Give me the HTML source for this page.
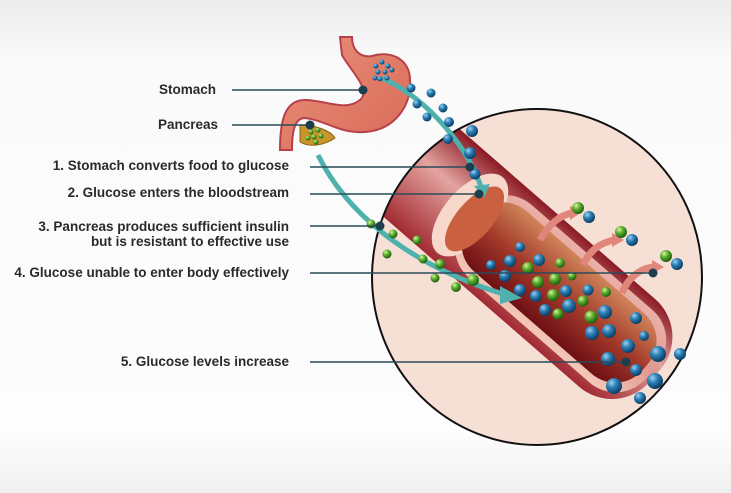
<!DOCTYPE html>
<html><head><style>
html,body{margin:0;padding:0;width:731px;height:493px;overflow:hidden;background:#fff}
svg{display:block}
text{font-family:"Liberation Sans",sans-serif;font-size:13.5px;font-weight:bold;fill:#2a2a2a;}
</style></head><body>
<svg width="731" height="493" viewBox="0 0 731 493" xmlns="http://www.w3.org/2000/svg">
<defs>
<linearGradient id="bg" x1="0" y1="0" x2="0" y2="1">
<stop offset="0" stop-color="#ececec"/><stop offset="0.12" stop-color="#fafafa"/><stop offset="0.88" stop-color="#fdfdfd"/><stop offset="1" stop-color="#f0f0f0"/>
</linearGradient>
<radialGradient id="blue" cx="0.35" cy="0.3" r="0.7"><stop offset="0" stop-color="#9fd0ee"/><stop offset="0.45" stop-color="#2a7fb5"/><stop offset="1" stop-color="#0d3d63"/></radialGradient>
<radialGradient id="green" cx="0.35" cy="0.3" r="0.7"><stop offset="0" stop-color="#d8f4a0"/><stop offset="0.45" stop-color="#5cae2e"/><stop offset="1" stop-color="#1f5e10"/></radialGradient>
<linearGradient id="vessel" x1="0" y1="0" x2="0" y2="1"><stop offset="0" stop-color="#d0845a"/><stop offset="0.5" stop-color="#a33a2a"/><stop offset="1" stop-color="#6d0f14"/></linearGradient>
<linearGradient id="wall" x1="0" y1="0" x2="0" y2="1"><stop offset="0" stop-color="#eab0a8"/><stop offset="0.5" stop-color="#e09a90"/><stop offset="1" stop-color="#f3c8b8"/></linearGradient>
<linearGradient id="outer" x1="0" y1="0" x2="0" y2="1"><stop offset="0" stop-color="#8a1a24"/><stop offset="0.4" stop-color="#e4a4a0"/><stop offset="1" stop-color="#a22a32"/></linearGradient>
<linearGradient id="stom" x1="0" y1="0" x2="1" y2="1"><stop offset="0" stop-color="#e9907a"/><stop offset="1" stop-color="#d86a58"/></linearGradient>
<clipPath id="cc"><ellipse cx="537" cy="277" rx="165" ry="168"/></clipPath>
</defs>
<rect width="731" height="493" fill="url(#bg)"/>

<ellipse cx="537" cy="277" rx="165" ry="168" fill="#f6dfd5"/>

<g clip-path="url(#cc)">
<g transform="translate(470,215) rotate(41)">
<rect x="-140" y="-58" width="385" height="116" rx="50" fill="url(#outer)"/>
<rect x="-140" y="-58" width="140" height="116" fill="url(#outer)"/>
<rect x="0" y="-48" width="240" height="96" rx="40" fill="url(#wall)"/>
<ellipse cx="0" cy="0" rx="26" ry="50" fill="#f7d8ca"/>
<rect x="4" y="-40" width="228" height="80" rx="36" fill="url(#vessel)"/>
<ellipse cx="6" cy="0" rx="18" ry="40" fill="#c9603f"/>
</g>
</g>
<ellipse cx="537" cy="277" rx="165" ry="168" fill="none" stroke="#111" stroke-width="2"/>

<path d="M340,37 L352,37 C352,50 360,58 372,56 C392,50 410,60 410,80 C412,105 395,130 365,132 C340,134 325,120 305,118 C295,118 292,130 292,150 L280,150 C280,120 285,100 305,100 C325,100 345,112 360,100 C372,90 350,70 342,55 Z" fill="url(#stom)" stroke="#b8404a" stroke-width="2"/>
<path d="M300,125 C315,125 330,130 335,138 C325,145 310,148 300,142 Z" fill="#c8952a" stroke="#8a6010" stroke-width="1"/>

<path d="M382,78 C430,100 470,150 482,190" fill="none" stroke="#4fb1ad" stroke-width="5"/>
<polygon points="474,186 490,184 484,198" fill="#4fb1ad"/>
<path d="M318,155 C350,220 420,270 510,296" fill="none" stroke="#4fb1ad" stroke-width="5"/>
<polygon points="500,286 522,298 500,304" fill="#4fb1ad"/>

<g fill="none" stroke="#e0867a" stroke-width="7">
<path d="M540,240 C548,225 560,215 572,213"/>
<path d="M583,265 C590,250 600,243 614,240"/>
<path d="M622,293 C628,278 640,268 654,267"/>
</g>
<g fill="#e0867a"><polygon points="570,206 582,212 570,220"/><polygon points="612,233 624,240 612,247"/><polygon points="652,260 664,267 652,274"/></g>

<g fill="url(#blue)">
<circle cx="376" cy="66" r="2.5"/><circle cx="382" cy="62" r="2.5"/><circle cx="388" cy="66" r="2.5"/><circle cx="378" cy="72" r="2.5"/><circle cx="385" cy="72" r="2.5"/><circle cx="392" cy="70" r="2.5"/><circle cx="380" cy="79" r="2.5"/><circle cx="387" cy="78" r="2.5"/><circle cx="375" cy="78" r="2.5"/>
<circle cx="411" cy="88" r="4.5"/><circle cx="431" cy="93" r="4.5"/><circle cx="417" cy="104" r="4.5"/><circle cx="443" cy="108" r="4.5"/><circle cx="427" cy="117" r="4.5"/><circle cx="449" cy="122" r="5"/><circle cx="472" cy="131" r="6"/><circle cx="448" cy="139" r="5"/><circle cx="470" cy="153" r="6"/><circle cx="475" cy="174" r="5.5"/>
<circle cx="589" cy="217" r="6"/><circle cx="632" cy="240" r="6"/><circle cx="677" cy="264" r="6"/>
<circle cx="520" cy="247" r="5"/><circle cx="491" cy="265" r="5"/><circle cx="510" cy="261" r="6"/><circle cx="539" cy="260" r="6"/><circle cx="505" cy="276" r="6"/><circle cx="520" cy="290" r="6"/><circle cx="536" cy="296" r="6"/><circle cx="566" cy="291" r="6"/><circle cx="588" cy="290" r="5.5"/><circle cx="545" cy="310" r="6"/><circle cx="569" cy="306" r="7"/><circle cx="605" cy="312" r="7"/><circle cx="636" cy="318" r="6"/><circle cx="592" cy="333" r="7"/><circle cx="609" cy="331" r="7"/><circle cx="644" cy="336" r="5"/><circle cx="628" cy="346" r="7"/><circle cx="608" cy="359" r="7"/><circle cx="658" cy="354" r="8"/><circle cx="680" cy="354" r="6"/><circle cx="636" cy="370" r="6"/><circle cx="614" cy="386" r="8"/><circle cx="655" cy="381" r="8"/><circle cx="640" cy="398" r="6"/>
</g>
<g fill="url(#green)">
<circle cx="311" cy="132" r="2.5"/><circle cx="318" cy="130" r="2.5"/><circle cx="314" cy="137" r="2.5"/><circle cx="321" cy="136" r="2.5"/><circle cx="308" cy="138" r="2.5"/><circle cx="316" cy="142" r="2.5"/>
<circle cx="371" cy="224" r="4.5"/><circle cx="393" cy="234" r="4.5"/><circle cx="417" cy="240" r="4.5"/><circle cx="387" cy="254" r="4.5"/><circle cx="423" cy="259" r="4.5"/><circle cx="440" cy="264" r="5"/><circle cx="435" cy="278" r="4.5"/><circle cx="456" cy="287" r="5"/><circle cx="473" cy="280" r="6"/>
<circle cx="578" cy="208" r="6"/><circle cx="621" cy="232" r="6"/><circle cx="666" cy="256" r="6"/>
<circle cx="560" cy="263" r="5"/><circle cx="528" cy="268" r="6"/><circle cx="572" cy="276" r="4.5"/><circle cx="538" cy="282" r="6"/><circle cx="555" cy="279" r="6"/><circle cx="553" cy="295" r="6"/><circle cx="583" cy="301" r="5.5"/><circle cx="606" cy="292" r="5"/><circle cx="558" cy="314" r="5.5"/><circle cx="591" cy="317" r="6.5"/>
</g>

<g stroke="#2b4a58" stroke-width="1.6">
<line x1="232" y1="90" x2="363" y2="90"/>
<line x1="232" y1="125" x2="310" y2="125"/>
<line x1="310" y1="167" x2="470" y2="167"/>
<line x1="310" y1="194" x2="479" y2="194"/>
<line x1="310" y1="226" x2="380" y2="226"/>
<line x1="310" y1="273" x2="653" y2="273"/>
<line x1="310" y1="362" x2="626" y2="362"/>
</g>
<g fill="#1f3e4c">
<circle cx="363" cy="90" r="4.5"/><circle cx="310" cy="125" r="4.5"/><circle cx="470" cy="167" r="4.5"/><circle cx="479" cy="194" r="4.5"/><circle cx="380" cy="226" r="4.5"/><circle cx="653" cy="273" r="4.5"/><circle cx="626" cy="362" r="4.5"/>
</g>

<g text-anchor="end">
<text x="216" y="94">Stomach</text>
<text x="218" y="129">Pancreas</text>
<text x="289" y="170">1.  Stomach converts food to glucose</text>
<text x="289" y="197">2. Glucose enters the bloodstream</text>
<text x="289" y="231">3. Pancreas produces sufficient insulin</text>
<text x="289" y="246">but is resistant to effective use</text>
<text x="289" y="277">4.  Glucose unable to enter body effectively</text>
<text x="289" y="366">5. Glucose levels increase</text>
</g>
</svg>
</body></html>
